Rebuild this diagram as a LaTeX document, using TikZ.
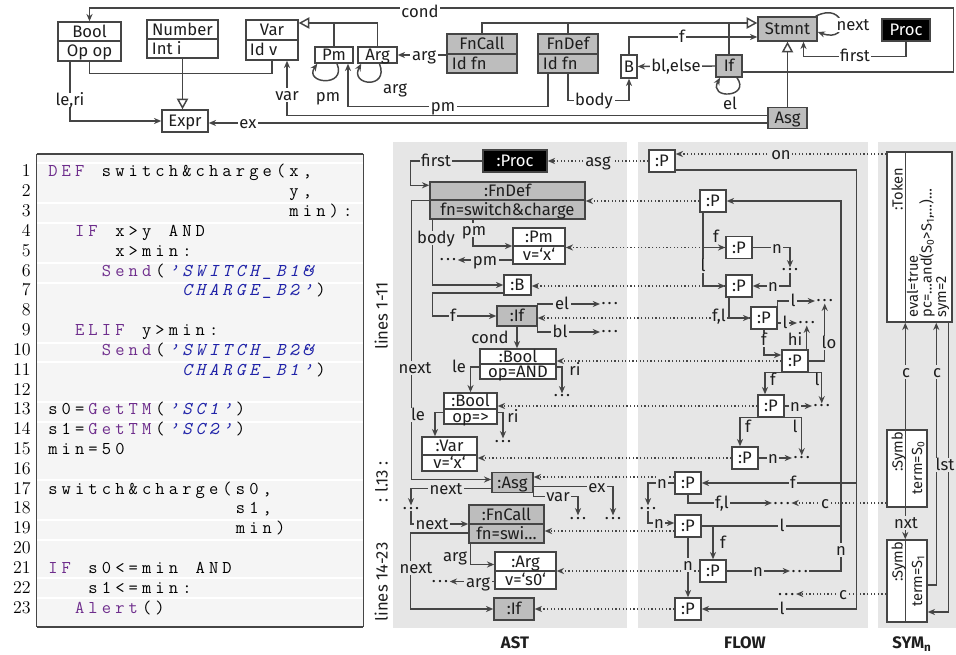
\documentclass[tikz,border=0pt]{standalone}
\usepackage{fontspec}
\setmainfont{Fira Sans}
\usetikzlibrary{arrows.meta,calc,fit}
\definecolor{lc}{HTML}{454545}
\definecolor{tc}{HTML}{1E1E1E}
\definecolor{gfill}{HTML}{BDBDBD}
\definecolor{panel}{HTML}{E6E6E6}
\definecolor{codebg}{HTML}{F5F5F5}
\definecolor{kw}{HTML}{6E2D8C}
\definecolor{str}{HTML}{1F22A8}
\newcommand\px[1]{#1*0.75pt}
\newcommand\nf{\fontsize{12.5pt}{13pt}\selectfont}
\newcommand\tokf{\fontsize{11pt}{9.4pt}\selectfont}
\newcommand\codef{\fontsize{13.5pt}{14pt}\selectfont\ttfamily}
\newcommand\lnf{\fontsize{13.5pt}{14pt}\selectfont\fontfamily{lmr}\selectfont}
\newcommand\dd{.\kern1.6pt.\kern1.6pt.}
\newlength\cwd \setlength\cwd{10.05pt}
\def\ccend{\ccend}
\newcommand\cc[1]{\ccloop#1\ccend}
\def\ccloop#1{\ifx#1\ccend\else\makebox[\cwd][l]{#1}\expandafter\ccloop\fi}
\newcommand\coderow[2]{\node[codeline] (cl#1) at (48,{177+(#1-1)*19.82}) {#2};}
\tikzset{
  every node/.style={font=\nf, text=tc, text height=8.6pt, text depth=0pt, inner sep=1.2pt},
  ln/.style={draw=lc, line width=1.1pt},
  bxs/.style={draw=lc, line width=1.1pt, inner sep=0pt},
  wbx/.style={bxs, fill=white},
  gbx/.style={bxs, fill=gfill},
  kbx/.style={bxs, fill=black, text=white},
  pbox/.style={wbx, minimum width={\px{26}}, minimum height={\px{22}}},
  arr/.style={ln, -{Stealth[length=5.5pt,width=4.6pt]}},
  inh/.style={ln, -{Triangle[open, length=8pt, width=8.5pt, fill=white]}},
  dotarr/.style={draw=lc, line width=1pt, dash pattern=on 0.9pt off 1.8pt, -{Stealth[length=5.5pt,width=4.6pt]}},
  wl/.style={fill=white, inner sep=1.2pt},
  gl/.style={fill=panel, inner sep=1.2pt},
  dts/.style={text height=1.5pt, inner sep=1pt},
  codeline/.style={anchor=base west, inner sep=0pt, font=\codef, text=black, text height={}, text depth={}},
  lnum/.style={anchor=base east, inner sep=0pt, font=\lnf, text=black, text height={}, text depth={}},
}
\begin{document}
\begin{tikzpicture}[x=0.75pt,y=-0.75pt]
\useasboundingbox (0,0) rectangle (956,655);
% ================= TOP: metamodel =================
\node[wbx, fit={(58,22) (121,61)}] (bool) {};
\draw[ln] (bool.west |- 0,41) -- (bool.east |- 0,41);
\node (boolh) at (89.5,31.5) {Bool};
\node (boola) at (89.5,51) {Op op};
\node[wbx, fit={(147,20) (218,58)}] (number) {};
\draw[ln] (number.west |- 0,39) -- (number.east |- 0,39);
\node (numberh) at (182.5,29.5) {Number};
\node[anchor=west] (numbera) at (150,48.5) {Int i};
\node[wbx, fit={(246,20) (298,60)}] (var) {};
\draw[ln] (var.west |- 0,40) -- (var.east |- 0,40);
\node (varh) at (272,30) {Var};
\node[anchor=west] (vara) at (248,50) {Id v};
\node[wbx, minimum width={\px{46}}, minimum height={\px{22}}] (expr) at (185,121) {Expr};
\node[wbx, minimum width={\px{38}}, minimum height={\px{16}}] (pm) at (334,55) {Pm};
\node[wbx, minimum width={\px{39}}, minimum height={\px{16}}] (arg) at (377.5,55) {Arg};
\node[gbx, fit={(447,34) (517,73)}] (fncall) {};
\draw[ln] (fncall.west |- 0,54) -- (fncall.east |- 0,54);
\node (fncallh) at (482,44) {FnCall};
\node[anchor=west] (fncalla) at (450,63.5) {Id fn};
\node[gbx, fit={(538,34) (598,73)}] (fndef) {};
\draw[ln] (fndef.west |- 0,54) -- (fndef.east |- 0,54);
\node (fndefh) at (568,44) {FnDef};
\node[anchor=west] (fndefa) at (541,63.5) {Id fn};
\node[wbx, minimum width={\px{16}}, minimum height={\px{23}}] (b) at (629,66.5) {B};
\node[gbx, minimum width={\px{26}}, minimum height={\px{22}}] (if) at (729,66) {If};
\node[gbx, minimum width={\px{59}}, minimum height={\px{24}}] (stmnt) at (787.5,29) {Stmnt};
\node[kbx, minimum width={\px{48}}, minimum height={\px{22}}] (proc) at (906,30) {Proc};
\node[gbx, minimum width={\px{39}}, minimum height={\px{21}}] (asg) at (787.5,118) {Asg};
% top connectors
\draw[arr] ($(if.east)+(0,6)$) -- ++(211,0) |- (bool.north |- 0,8) -- (bool.north);
\draw[inh] (arg.north) |- (var.east |- 0,23);
\draw[ln] (pm.north) -- (pm.north |- 0,23);
\draw[inh] (number.south) -- (expr.north -| number.south);
\draw[ln] (bool.south) |- ($(var.south)+(0,13)$) -- (var.south);
\draw[arr] (bool.south -| 70,0) |- (expr.west);
\draw[arr] (fncall.west |- arg.east) -- (arg.east);
\draw[inh] (fncall.north) |- ($(stmnt.west)+(0,-6)$);
\draw[ln] (fndef.north) -- (fndef.north |- 0,23);
\draw[ln] (if.north) -- (if.north |- 0,23);
\draw[arr] (b.north) |- ($(stmnt.west)+(0,8)$);
\draw[arr] (if.west) -- (b.east);
\draw[arr] ($(if.south)+(8,0)$) .. controls +(14,20) and +(-12,22) .. ($(if.south)+(-9,0)$);
\draw[arr] ($(stmnt.north east)+(-2,0)$) .. controls +(30,-16) and +(34,12) .. ($(stmnt.east)+(0,3)$);
\draw[arr] (proc.south) |- ($(stmnt.south)+(16,15)$) -- ($(stmnt.south)+(16,0)$);
\draw[inh] (asg.north) -- (stmnt.south);
\draw[arr] (fndef.south) |- ($(b.south)+(0,22)$) -- (b.south);
\draw[arr] ($(fndef.south)+(-20,0)$) |- ($(pm.south)+(14,43)$) -- ($(pm.south)+(14,0)$);
\draw[arr] ($(pm.south)+(3,0)$) .. controls +(10,24) and +(-14,20) .. ($(pm.south west)+(3,0)$);
\draw[arr] ($(arg.south)+(2,0)$) .. controls +(10,26) and +(-12,22) .. ($(arg.south west)+(4,0)$);
\draw[arr] ($(asg.west)+(0,-2.5)$) -| ($(var.south)+(15,0)$);
\draw[arr] ($(asg.west)+(0,5)$) -- (expr.east |- 0,123);
% top labels
\node[wl] (lcond) at (420,12) {cond};
\node[wl] (lleri) at (70,100) {le,ri};
\node[wl] (lvar) at (287,95) {var};
\node[wl] (lex) at (248,123) {ex};
\node[wl] (lpm1) at (328,96) {pm};
\node[wl] (larg1) at (395,88) {arg};
\node[wl] (larg2) at (424,55) {arg};
\node[wl] (lpm2) at (443,106) {pm};
\node[wl] (lbody) at (594,100) {body};
\node[wl] (lf) at (682,37) {f};
\node[wl] (lblelse) at (676,66) {bl,else};
\node[wl] (lel) at (730,104) {el};
\node[wl] (lnext) at (853,25) {next};
\node[wl] (lfirst) at (855,56) {first};
% ================= CODE =================
\node[fit={(37,154) (363,627)}, inner sep=0pt, fill=codebg] (code) {};
\foreach \yy in {163,203,223,263,283,343,362,402,422,480,520,540,578,598}
  \draw[white, line width=0.8pt] (code.west |- 0,\yy) -- (code.east |- 0,\yy);
\draw[draw=lc, line width=1.3pt] (code.north west) -- (code.north east);
\draw[draw=lc, line width=1.7pt] (code.south west) -- (code.south east);
\draw[draw=lc, line width=0.7pt] (code.north west) -- (code.south west);
\draw[draw=lc, line width=0.7pt] (code.north east) -- (code.south east);
\foreach \k in {1,...,23} {\node[lnum] (ln\k) at (31,{177+(\k-1)*19.82}) {\k};}
\coderow{1}{\textcolor{kw}{\cc{DEF}}\cc{~switch\&charge(x,}}
\coderow{2}{\cc{~~~~~~~~~~~~~~~~~~y,}}
\coderow{3}{\cc{~~~~~~~~~~~~~~~~~~min):}}
\coderow{4}{\cc{~~}\textcolor{kw}{\cc{IF}}\cc{~x>y~AND}}
\coderow{5}{\cc{~~~~~x>min:}}
\coderow{6}{\cc{~~~~}\textcolor{kw}{\cc{Send}}\cc{(}\textcolor{str}{\itshape\cc{’SWITCH\_B1\&}}}
\coderow{7}{\cc{~~~~~~~~~~}\textcolor{str}{\itshape\cc{CHARGE\_B2’}}\cc{)}}
\coderow{9}{\cc{~~}\textcolor{kw}{\cc{ELIF}}\cc{~y>min:}}
\coderow{10}{\cc{~~~~}\textcolor{kw}{\cc{Send}}\cc{(}\textcolor{str}{\itshape\cc{’SWITCH\_B2\&}}}
\coderow{11}{\cc{~~~~~~~~~~}\textcolor{str}{\itshape\cc{CHARGE\_B1’}}\cc{)}}
\coderow{13}{\cc{s0=}\textcolor{kw}{\cc{GetTM}}\cc{(}\textcolor{str}{\itshape\cc{’SC1’}}\cc{)}}
\coderow{14}{\cc{s1=}\textcolor{kw}{\cc{GetTM}}\cc{(}\textcolor{str}{\itshape\cc{’SC2’}}\cc{)}}
\coderow{15}{\cc{min=50}}
\coderow{17}{\cc{switch\&charge(s0,}}
\coderow{18}{\cc{~~~~~~~~~~~~~~s1,}}
\coderow{19}{\cc{~~~~~~~~~~~~~~min)}}
\coderow{21}{\textcolor{kw}{\cc{IF}}\cc{~s0<=min~AND}}
\coderow{22}{\cc{~~~s1<=min:}}
\coderow{23}{\cc{~~}\textcolor{kw}{\cc{Alert}}\cc{()}}
\node[rotate=90] (lab1) at (382,316) {lines 1-11};
\node[rotate=90] (lab2) at (382,482) {: l.13 :};
\node[rotate=90] (lab3) at (382,582) {lines 14-23};
% ================= PANELS =================
\node[fit={(393,142) (627,628)}, inner sep=0pt, fill=panel] (astp) {};
\node[fit={(638,142) (868,628)}, inner sep=0pt, fill=panel] (flowp) {};
\node[fit={(878,142) (956,628)}, inner sep=0pt, fill=panel] (symp) {};
\node[font=\bfseries\nf] (tast) at (515,643) {AST};
\node[font=\bfseries\nf] (tflow) at (745,643) {FLOW};
\node[font=\bfseries\nf] (tsym) at (912,643) {SYM\textsubscript{n}};
% ================= AST =================
\node[kbx, minimum width={\px{64}}, minimum height={\px{22}}] (aproc) at (515,161) {:Proc};
\node[gbx, fit={(430,182) (585,219)}] (afndef) {};
\draw[ln] (afndef.west |- 0,200) -- (afndef.east |- 0,200);
\node (afndefh) at (507.5,191) {:FnDef};
\node (afndefa) at (507.5,209.5) {fn=switch\&charge};
\node[wbx, fit={(513,228) (565,264)}] (apm) {};
\draw[ln] (apm.west |- 0,246) -- (apm.east |- 0,246);
\node (apmh) at (539,237) {:Pm};
\node (apma) at (539,255) {v=‘x‘};
\node[wbx, minimum width={\px{27}}, minimum height={\px{20}}] (ab) at (517.5,285) {:B};
\node[gbx, minimum width={\px{40}}, minimum height={\px{20}}] (aif) at (517,316) {:If};
\node[wbx, fit={(480,349) (556,379)}] (abool1) {};
\draw[ln] (abool1.west |- 0,364) -- (abool1.east |- 0,364);
\node (ab1h) at (518,356.5) {:Bool};
\node (ab1a) at (518,371.5) {op=AND};
\node[wbx, fit={(444,393) (497,424)}] (abool2) {};
\draw[ln] (abool2.west |- 0,409) -- (abool2.east |- 0,409);
\node (ab2h) at (470.5,401) {:Bool};
\node (ab2a) at (470.5,416.5) {op=>};
\node[wbx, fit={(422,437) (477,471)}] (avar) {};
\draw[ln] (avar.west |- 0,455) -- (avar.east |- 0,455);
\node (avarh) at (449.5,446) {:Var};
\node (avara) at (449.5,463) {v=‘x‘};
\node[gbx, minimum width={\px{41}}, minimum height={\px{20}}] (aasg) at (512.5,482.5) {:Asg};
\node[gbx, fit={(469,505) (544,543)}] (afncall) {};
\draw[ln] (afncall.west |- 0,524) -- (afncall.east |- 0,524);
\node (afch) at (506.5,514.5) {:FnCall};
\node (afca) at (506.5,533.5) {fn=swi…};
\node[wbx, fit={(495,552) (556,589)}] (aarg) {};
\draw[ln] (aarg.west |- 0,571) -- (aarg.east |- 0,571);
\node (aargh) at (525.5,561.5) {:Arg};
\node (aarga) at (525.5,580) {v=‘s0‘};
\node[gbx, minimum width={\px{40}}, minimum height={\px{22}}] (aif2) at (514,609) {:If};
% AST dots
\node[dts] (apmd) at (448,260) {\dd};
\node[dts, anchor=west] (aeld) at (600,304) {\dd};
\node[dts, anchor=west] (abld) at (600,332) {\dd};
\node[dts] (ab1rd) at (562,396) {\dd};
\node[dts] (ab2rd) at (503,441) {\dd};
\node[dts] (asgnd) at (411,508) {\dd};
\node[dts] (asgvd) at (578,518) {\dd};
\node[dts] (asgxd) at (613,518) {\dd};
\node[dts] (aargd) at (440,581.5) {\dd};
% AST connectors
\draw[arr] (aproc.west) -- ++(-72,0) |- ($(afndef.north west)+(0,4)$);
\draw[arr] (afndef.west) -- ++(-18,0) |- ($(aasg.west)+(0,-3)$);
\draw[arr] ($(afndef.south west)+(3,0)$) |- (ab.west);
\draw[arr] ($(afndef.south)+(-34.5,0)$) |- (apm.west);
\draw[arr] ($(apm.west)+(0,14)$) -- (apmd.east);
\draw[arr] ($(ab.west)+(0,8)$) -- ++(-71,0) |- (aif.west);
\draw[arr] (aif.east) |- (aeld.west);
\draw[arr] (aif.east) |- (abld.west);
\draw[arr] (aif.south) -- (aif.south |- abool1.north);
\draw[arr] ($(abool1.west)+(0,3)$) -| (abool2.north);
\draw[arr] ($(abool1.east)+(0,3)$) -| (ab1rd.north);
\draw[arr] ($(abool2.west)+(0,4)$) -| ($(avar.north)+(-14.5,0)$);
\draw[arr] ($(abool2.east)+(0,4)$) -| (ab2rd.north);
\draw[arr] ($(aasg.west)+(0,6)$) -| (asgnd.north);
\draw[arr] (aasg.south east) -- ++(0,3) -| (asgvd.north);
\draw[arr] ($(aasg.east)+(0,4)$) -| (asgxd.north);
\draw[arr] (asgnd.south) |- (afncall.west);
\draw[arr] ($(afncall.west)+(0,9)$) -- ++(-58,0) |- (aif2.west);
\draw[arr] ($(afncall.south west)+(2,0)$) |- ($(aarg.west)+(0,-6)$);
\draw[arr] ($(aarg.west)+(0,11)$) -- (aargd.east);
% ================= FLOW =================
\node[pbox] (p1) at (662,161) {:P};
\node[pbox] (p2) at (713,201) {:P};
\node[pbox] (p3) at (739,247.5) {:P};
\node[pbox] (p4) at (739,286) {:P};
\node[pbox] (p5) at (764,318) {:P};
\node[pbox] (p6) at (795,361) {:P};
\node[pbox] (p7) at (771,406) {:P};
\node[pbox] (p9) at (745,458) {:P};
\node[pbox] (p8) at (688,483) {:P};
\node[pbox] (p10) at (688,526) {:P};
\node[pbox] (p11) at (713,571) {:P};
\node[pbox] (p12) at (688,609) {:P};
\node[dts] (fd3) at (790,270) {\dd};
\node[dts, anchor=west] (fd51) at (815,301) {\dd};
\node[dts, anchor=west] (fd52) at (797,323) {\dd};
\node[dts, anchor=west] (fd7) at (812,406) {\dd};
\node[dts, anchor=west] (fd9) at (792,458) {\dd};
\node[dts] (fd8) at (648,508) {\dd};
\node[dts, anchor=west] (fd8b) at (772,503) {\dd};
\node[dts, anchor=west] (fd11) at (790,571) {\dd};
\node[dts, anchor=east] (fd12) at (796,594) {\dd};
\coordinate (p8d) at ($(p8.west)+(0,-6)$);
\coordinate (p10d) at ($(p10.west)+(0,5)$);
% flow connectors
\draw[arr] ($(p1.east)+(0,9)$) -- ++(181,0) |- (p12.east);
\draw[arr] (p8.east -| 856,0) -- (p8.east);
\draw[arr] (p10.east) -- (p10.east -| 841,0) |- (p2.east);
\draw[arr] (p11.east) -- (fd11.west);
\draw[ln] (fd11.east) -| (p10.east -| 841,0);
\draw[arr] ($(p2.south)+(-10,0)$) |- (p3.west);
\draw[arr] ($(p2.south)+(-10,0)$) |- (p4.west);
\draw[arr] (p3.east) -| (fd3.north);
\draw[arr] (fd3.south) |- (p4.east);
\draw[arr] ($(p4.south)+(-10,0)$) |- (p5.west);
\draw[arr] (p5.north east) |- (fd51.west);
\draw[arr] ($(p5.east)+(0,5)$) -- (fd52.west);
\draw[arr] (p5.south) |- ($(p6.west)+(0,-6)$);
\draw[arr] (p6.north -| fd52.south) -- (fd52.south);
\draw[arr] (p6.east) -| (fd51.south);
\draw[arr] (p6.south) -| ($(p7.north)+(-6,0)$);
\draw[arr] (p6.south) -| (fd7.north);
\draw[arr] (p7.east) -- (fd7.west);
\draw[arr] (p7.south) -| ($(p9.north)+(-5,0)$);
\draw[arr] (p7.south) -| (fd9.north);
\draw[arr] (p9.east) -- (fd9.west);
\draw[arr] (p8.west) -| (fd8.north);
\draw[arr] (p8.south) |- (fd8b.west);
\draw[arr] (fd8.south) |- ($(p10.west)+(0,-3)$);
\draw[arr] (p10.east -| p11.north) -- (p11.north);
\draw[arr] (p10.south) -- (p12.north);
% dotted flow -> ast
\draw[dotarr] (p1.west) -- (aproc.east);
\draw[dotarr] (p2.west) -- (p2.west -| afndef.east);
\draw[dotarr] (p3.west) -- (p3.west -| apm.east);
\draw[dotarr] (p4.west) -- (p4.west -| ab.east);
\draw[dotarr] (p5.west) -- (p5.west -| aif.east);
\draw[dotarr] (p6.west) -- (p6.west -| abool1.east);
\draw[dotarr] (p7.west) -- (p7.west -| abool2.east);
\draw[dotarr] (p9.west) -- (p9.west -| avar.east);
\draw[dotarr] (p8d) -- (p8d -| aasg.east);
\draw[dotarr] (p10d) -- (p10d -| afncall.east);
\draw[dotarr] (p11.west) -- (p11.west -| aarg.east);
\draw[dotarr] (p12.west) -- (aif2.east);
% ================= SYM =================
\node[wbx, fit={(887,152) (952,322)}] (token) {};
\draw[ln] ($(token.north west)+(19,0)$) -- ($(token.south west)+(19,0)$);
\node[rotate=90, font=\tokf] (tokh) at (897,189) {:Token};
\node[rotate=90, font=\tokf, anchor=west, align=left, text height={}, text depth={}] (toka) at (928,319) {eval=true\\pc=…and(S\textsubscript{0}>S\textsubscript{1},…)…\\sym=2};
\node[wbx, fit={(887,430) (927,507)}] (symb0) {};
\draw[ln] ($(symb0.north west)+(19,0)$) -- ($(symb0.south west)+(19,0)$);
\node[rotate=90, font=\tokf] (s0h) at (897,452) {:Symb};
\node[rotate=90, font=\tokf] (s0a) at (916.5,468) {term=S\textsubscript{0}};
\node[wbx, fit={(887,540) (927,622)}] (symb1) {};
\draw[ln] ($(symb1.north west)+(19,0)$) -- ($(symb1.south west)+(19,0)$);
\node[rotate=90, font=\tokf] (s1h) at (897,562) {:Symb};
\node[rotate=90, font=\tokf] (s1a) at (916.5,581) {term=S\textsubscript{1}};
\draw[arr] ($(symb0.north west)+(19,0)$) -- ($(token.south west)+(19,0)$);
\draw[arr] ($(symb0.south west)+(19,0)$) -- ($(symb1.north west)+(19,0)$);
\draw[arr] ($(symb1.east)+(0,4)$) -| ($(token.south west)+(50,0)$);
\draw[arr] ($(token.south west)+(62,0)$) |- ($(symb1.east)+(0,31)$);
\draw[dotarr] (token.west |- 0,154) -- (p1.east |- 0,154);
\draw[dotarr] (symb0.west |- fd8b.east) -- (fd8b.east);
\draw[dotarr] (symb1.west |- fd12.east) -- (fd12.east);
% ================= bottom labels =================
\node[gl] at (436,161) {first};
\node[gl] at (598,161) {asg};
\node[gl] at (436,238) {body};
\node[gl] at (474,230) {pm};
\node[gl] at (485,260) {pm};
\node[gl] at (453,316) {f};
\node[gl] at (562,304) {el};
\node[gl] at (560,332) {bl};
\node[gl] at (490,338) {cond};
\node[gl] at (415,368) {next};
\node[gl] at (459,367) {le};
\node[gl] at (575,370) {ri};
\node[gl] at (418,415) {le};
\node[gl] at (513,417) {ri};
\node[gl] at (446,488.5) {next};
\node[gl] at (558,496) {var};
\node[gl] at (597,486.5) {ex};
\node[gl] at (432,524) {next};
\node[gl] at (416,568) {next};
\node[gl] at (455,556) {arg};
\node[gl] at (478,581.5) {arg};
\node[gl] at (781,154) {on};
\node[gl] at (782,609) {l};
\node[gl] at (793,483) {f};
\node[gl] at (782,526) {l};
\node[gl] at (758,571) {n};
\node[gl] at (841,550) {n};
\node[gl] at (716,237) {f};
\node[gl] at (703,266) {l};
\node[gl] at (777,247.5) {n};
\node[gl] at (773,286) {n};
\node[gl] at (719,316) {f,l};
\node[gl] at (793,301) {l};
\node[gl] at (785,323) {l};
\node[gl] at (764,340) {f};
\node[gl] at (795,340) {hi};
\node[gl] at (829,343) {lo};
\node[gl] at (773,380) {f};
\node[gl] at (817,380) {l};
\node[gl] at (795,406) {n};
\node[gl] at (748,427) {f};
\node[gl] at (795,427) {l};
\node[gl] at (773,458) {n};
\node[gl] at (662,483) {n};
\node[gl] at (722,503) {f,l};
\node[gl] at (825,503) {c};
\node[gl] at (659,523) {n};
\node[gl] at (723,543) {f};
\node[gl] at (688,565) {n};
\node[gl] at (843,594) {c};
\node[gl] at (906,372) {c};
\node[gl] at (937,372) {c};
\node[gl] at (945,465) {lst};
\node[gl] at (906,523) {nxt};
\end{tikzpicture}
\end{document}
